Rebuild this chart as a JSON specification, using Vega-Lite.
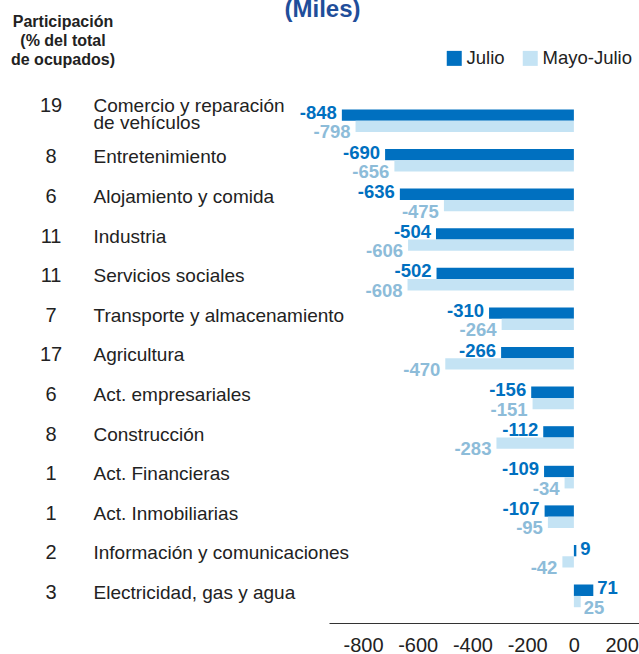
{
  "$schema": "https://vega.github.io/schema/vega-lite/v6.json",
  "padding": {"left": 0, "top": -3, "right": 0, "bottom": 0},
  "config": {
    "font": "Liberation Sans",
    "view": {"stroke": null},
    "text": {"font": "Liberation Sans"},
    "locale": {"number": {"decimal": ".", "thousands": ",", "grouping": [3], "currency": ["$", ""], "minus": "-"}}
  },
  "title": {
    "text": "(Miles)",
    "fontSize": 24,
    "fontWeight": "bold",
    "color": "#1f4e9a",
    "anchor": "middle",
    "offset": -8,
    "dx": 3
  },
  "datasets": {
    "cats": [
      {"cat": "Comercio y reparación de vehículos", "part": 19},
      {"cat": "Entretenimiento", "part": 8},
      {"cat": "Alojamiento y comida", "part": 6},
      {"cat": "Industria", "part": 11},
      {"cat": "Servicios sociales", "part": 11},
      {"cat": "Transporte y almacenamiento", "part": 7},
      {"cat": "Agricultura", "part": 17},
      {"cat": "Act. empresariales", "part": 6},
      {"cat": "Construcción", "part": 8},
      {"cat": "Act. Financieras", "part": 1},
      {"cat": "Act. Inmobiliarias", "part": 1},
      {"cat": "Información y comunicaciones", "part": 2},
      {"cat": "Electricidad, gas y agua", "part": 3}
    ],
    "bars": [
      {"cat": "Comercio y reparación de vehículos", "series": "Julio", "value": -848},
      {"cat": "Comercio y reparación de vehículos", "series": "Mayo-Julio", "value": -798},
      {"cat": "Entretenimiento", "series": "Julio", "value": -690},
      {"cat": "Entretenimiento", "series": "Mayo-Julio", "value": -656},
      {"cat": "Alojamiento y comida", "series": "Julio", "value": -636},
      {"cat": "Alojamiento y comida", "series": "Mayo-Julio", "value": -475},
      {"cat": "Industria", "series": "Julio", "value": -504},
      {"cat": "Industria", "series": "Mayo-Julio", "value": -606},
      {"cat": "Servicios sociales", "series": "Julio", "value": -502},
      {"cat": "Servicios sociales", "series": "Mayo-Julio", "value": -608},
      {"cat": "Transporte y almacenamiento", "series": "Julio", "value": -310},
      {"cat": "Transporte y almacenamiento", "series": "Mayo-Julio", "value": -264},
      {"cat": "Agricultura", "series": "Julio", "value": -266},
      {"cat": "Agricultura", "series": "Mayo-Julio", "value": -470},
      {"cat": "Act. empresariales", "series": "Julio", "value": -156},
      {"cat": "Act. empresariales", "series": "Mayo-Julio", "value": -151},
      {"cat": "Construcción", "series": "Julio", "value": -112},
      {"cat": "Construcción", "series": "Mayo-Julio", "value": -283},
      {"cat": "Act. Financieras", "series": "Julio", "value": -109},
      {"cat": "Act. Financieras", "series": "Mayo-Julio", "value": -34},
      {"cat": "Act. Inmobiliarias", "series": "Julio", "value": -107},
      {"cat": "Act. Inmobiliarias", "series": "Mayo-Julio", "value": -95},
      {"cat": "Información y comunicaciones", "series": "Julio", "value": 9},
      {"cat": "Información y comunicaciones", "series": "Mayo-Julio", "value": -42},
      {"cat": "Electricidad, gas y agua", "series": "Julio", "value": 71},
      {"cat": "Electricidad, gas y agua", "series": "Mayo-Julio", "value": 25}
    ]
  },
  "bounds": "flush",
  "spacing": 227,
  "hconcat": [
    {
      "width": 102,
      "height": 523,
      "data": {"name": "cats"},
      "title": {
        "text": ["Participación", "(% del total", "de ocupados)"],
        "fontSize": 16,
        "fontWeight": "bold",
        "lineHeight": 19,
        "color": "#222222",
        "anchor": "middle",
        "dx": 12,
        "offset": 28
      },
      "mark": {
        "type": "text",
        "fontSize": 20,
        "color": "#222222",
        "align": "center",
        "baseline": "middle",
        "dy": {"expr": "datum.cat == 'Comercio y reparación de vehículos' ? -15 : -3"}
      },
      "encoding": {
        "y": {
          "field": "cat",
          "type": "nominal",
          "sort": null,
          "axis": null,
          "scale": {"type": "band", "paddingInner": 0, "paddingOuter": 0.1035, "align": 0.11}
        },
        "text": {"field": "part", "type": "quantitative"}
      }
    },
    {
      "width": 310,
      "height": 523,
      "data": {"name": "bars"},
      "encoding": {
        "y": {
          "field": "cat",
          "type": "nominal",
          "sort": null,
          "scale": {"type": "band", "paddingInner": 0, "paddingOuter": 0.1035, "align": 0.11},
          "axis": {
            "title": null,
            "domain": false,
            "ticks": false,
            "tickSize": 0,
            "labelAlign": "left",
            "labelBaseline": "middle",
            "labelPadding": 236,
            "labelFontSize": 19,
            "labelColor": "#222222",
            "labelLimit": 400,
            "labelLineHeight": 17,
            "labelOffset": {"condition": {"test": "datum.value == 'Comercio y reparación de vehículos'", "value": -15}, "value": -3},
            "labelExpr": "datum.label == 'Comercio y reparación de vehículos' ? ['Comercio y reparación', 'de vehículos'] : datum.label"
          }
        }
      },
      "layer": [
        {
          "mark": {"type": "bar"},
          "encoding": {
            "x": {
              "field": "value",
              "type": "quantitative",
              "scale": {"domain": [-895, 238], "nice": false, "zero": false},
              "axis": {
                "title": null,
                "values": [-800, -600, -400, -200, 0, 200],
                "grid": false,
                "ticks": false,
                "tickSize": 0,
                "domain": true,
                "domainColor": "#333333",
                "domainWidth": 1.2,
                "labelFontSize": 20,
                "labelColor": "#222222",
                "labelPadding": 12,
                "labelFlush": false,
                "labelOffset": {"condition": [{"test": "datum.value < 0", "value": 8}, {"test": "datum.value > 0", "value": -7}], "value": 0}
              }
            },
            "yOffset": {
              "field": "series",
              "type": "nominal",
              "scale": {"domain": ["Julio", "Mayo-Julio"], "paddingInner": 0, "paddingOuter": 0.75}
            },
            "color": {
              "field": "series",
              "type": "nominal",
              "scale": {"domain": ["Julio", "Mayo-Julio"], "range": ["#0070c0", "#c4e3f4"]},
              "legend": {
                "title": null,
                "orient": "none",
                "direction": "horizontal",
                "legendX": 445,
                "legendY": -51,
                "symbolType": "square",
                "symbolSize": 225,
                "symbolStrokeWidth": 0,
                "labelFontSize": 18.5,
                "labelColor": "#222222",
                "labelOffset": 3,
                "columnPadding": 16,
                "padding": 0
              }
            }
          }
        },
        {
          "transform": [{"filter": "datum.series == 'Julio'"}],
          "mark": {
            "type": "text",
            "fontSize": 18.5,
            "fontWeight": "bold",
            "color": "#0070c0",
            "baseline": "middle",
            "dy": -2,
            "align": {"expr": "datum.value < 0 ? 'right' : 'left'"},
            "dx": {"expr": "datum.value < 0 ? -5 : 4"}
          },
          "encoding": {
            "x": {"field": "value", "type": "quantitative"},
            "yOffset": {"field": "series", "type": "nominal"},
            "text": {"field": "value", "type": "quantitative"}
          }
        },
        {
          "transform": [{"filter": "datum.series == 'Mayo-Julio'"}],
          "mark": {
            "type": "text",
            "fontSize": 18.5,
            "fontWeight": "bold",
            "color": "#8dbcd9",
            "baseline": "middle",
            "dy": 6,
            "align": {"expr": "datum.value < 0 ? 'right' : 'left'"},
            "dx": {"expr": "datum.value < 0 ? -5 : 3"}
          },
          "encoding": {
            "x": {"field": "value", "type": "quantitative"},
            "yOffset": {"field": "series", "type": "nominal"},
            "text": {"field": "value", "type": "quantitative"}
          }
        },
        {
          "mark": {"type": "rule", "color": "#222222", "strokeWidth": 1.5},
          "encoding": {"x": {"datum": 0}}
        }
      ]
    }
  ]
}
